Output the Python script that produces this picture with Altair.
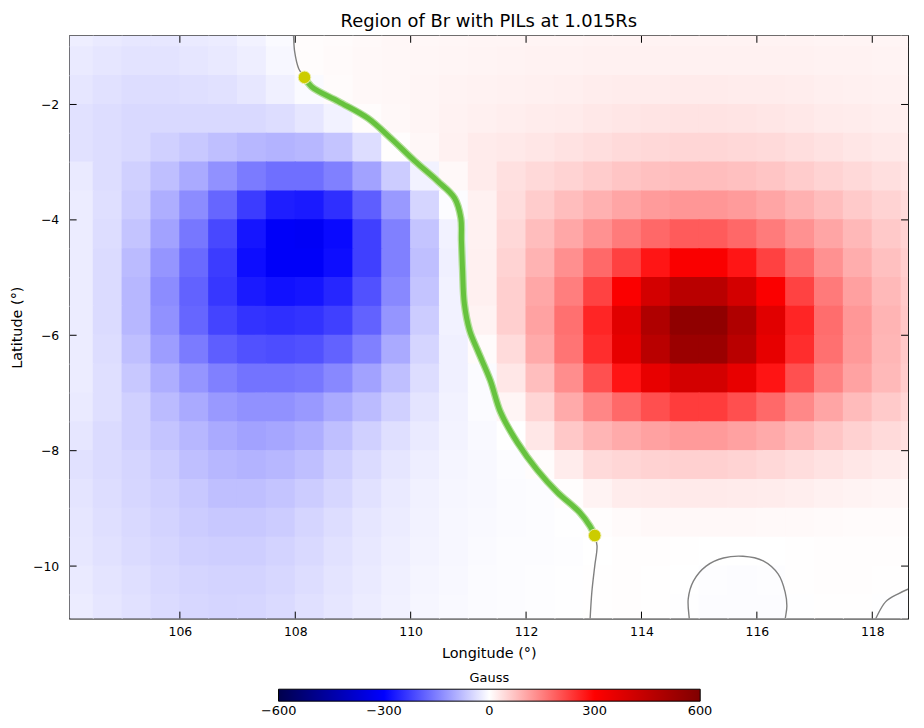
import altair as alt
import pandas as pd

# ---------------- data ----------------
LON_CENTERS = [104.25, 104.75, 105.25, 105.75, 106.25, 106.75, 107.25, 107.75,
               108.25, 108.75, 109.25, 109.75, 110.25, 110.75, 111.25, 111.75,
               112.25, 112.75, 113.25, 113.75, 114.25, 114.75, 115.25, 115.75,
               116.25, 116.75, 117.25, 117.75, 118.25, 118.75]
LAT_CENTERS = [-0.75, -1.25, -1.75, -2.25, -2.75, -3.25, -3.75, -4.25, -4.75,
               -5.25, -5.75, -6.25, -6.75, -7.25, -7.75, -8.25, -8.75, -9.25,
               -9.75, -10.25, -10.75]

# Br (Gauss), one row per latitude, one value per longitude
BR_ROWS = [
    [-20, -25, -28, -28, -25, -22, -15, -6, 3, 5, 7, 9, 10, 11, 12, 12, 13, 13, 14, 14, 14, 14, 14, 14, 14, 14, 13, 13, 12, 12],
    [-25, -30, -33, -33, -30, -26, -20, -10, 3, 6, 8, 10, 11, 12, 13, 14, 15, 15, 16, 17, 17, 17, 17, 17, 17, 16, 15, 15, 14, 13],
    [-30, -35, -40, -40, -38, -35, -28, -18, -6, 5, 8, 10, 12, 14, 15, 16, 18, 19, 21, 22, 22, 23, 23, 22, 22, 21, 19, 18, 16, 15],
    [-35, -40, -45, -45, -45, -45, -45, -40, -30, -15, 4, 8, 12, 15, 18, 20, 22, 24, 27, 30, 32, 33, 33, 32, 30, 27, 24, 22, 20, 18],
    [-35, -40, -45, -55, -65, -75, -85, -90, -85, -70, -40, 2, 10, 17, 23, 26, 30, 34, 39, 43, 46, 48, 48, 46, 43, 39, 34, 30, 26, 23],
    [-25, -40, -55, -75, -100, -130, -155, -170, -170, -150, -110, -60, -15, 8, 24, 36, 45, 52, 60, 68, 74, 78, 78, 74, 68, 60, 52, 45, 38, 32],
    [-22, -38, -60, -95, -135, -180, -230, -265, -270, -245, -190, -120, -50, -3, 16, 40, 60, 78, 92, 106, 118, 124, 124, 118, 106, 92, 78, 62, 52, 42],
    [-22, -40, -70, -110, -160, -215, -275, -310, -315, -290, -225, -150, -70, -15, 16, 46, 78, 104, 130, 155, 178, 193, 193, 178, 155, 130, 106, 84, 64, 52],
    [-22, -42, -80, -125, -175, -230, -285, -310, -310, -285, -225, -150, -75, -18, 18, 52, 90, 132, 176, 224, 275, 311, 311, 275, 224, 176, 130, 96, 74, 58],
    [-22, -42, -85, -135, -185, -235, -270, -280, -275, -255, -205, -140, -70, -15, 18, 56, 104, 152, 222, 310, 405, 466, 466, 405, 310, 222, 156, 112, 82, 62],
    [-22, -42, -85, -130, -180, -220, -240, -245, -240, -225, -185, -125, -60, -15, 14, 56, 110, 168, 256, 372, 490, 562, 562, 490, 372, 256, 172, 122, 88, 66],
    [-22, -40, -75, -115, -155, -190, -205, -210, -205, -185, -150, -100, -50, -18, 5, 42, 100, 163, 247, 356, 466, 537, 537, 466, 356, 247, 168, 120, 86, 64],
    [-22, -38, -65, -95, -125, -150, -165, -165, -160, -140, -110, -75, -40, -18, -5, 28, 76, 134, 206, 276, 355, 405, 405, 355, 276, 206, 148, 110, 82, 60],
    [-25, -38, -55, -80, -100, -120, -130, -130, -120, -100, -80, -55, -32, -15, -5, 12, 50, 100, 142, 176, 207, 229, 229, 207, 176, 140, 106, 80, 62, 48],
    [-30, -42, -55, -70, -85, -100, -110, -105, -95, -75, -55, -38, -25, -14, -7, 0, 28, 65, 87, 100, 111, 119, 119, 111, 100, 85, 68, 54, 43, 35],
    [-35, -42, -50, -60, -75, -85, -90, -85, -75, -58, -42, -30, -20, -12, -8, -4, 3, 22, 44, 48, 53, 55, 55, 52, 46, 40, 34, 28, 23, 19],
    [-32, -40, -48, -55, -65, -75, -75, -70, -60, -48, -35, -25, -17, -11, -8, -5, -3, 2, 14, 22, 24, 25, 25, 24, 22, 20, 17, 14, 12, 10],
    [-30, -38, -45, -52, -60, -65, -65, -60, -50, -40, -30, -22, -15, -10, -7, -5, -3, -1, 2, 6, 8, 8, 8, 8, 7, 7, 6, 5, 5, 4],
    [-28, -35, -42, -48, -55, -58, -58, -52, -45, -35, -27, -20, -14, -9, -6, -4, -3, -2, 0, 2, 2, 1, 0, 0, 0, 1, 2, 2, 2, 1],
    [-25, -32, -38, -45, -50, -52, -52, -47, -40, -32, -25, -18, -12, -8, -5, -3, -2, -1, 1, 2, 1, 0, -2, -3, -2, 1, 2, 2, 1, 1],
    [-22, -30, -35, -42, -47, -50, -48, -43, -37, -30, -22, -16, -11, -7, -5, -3, -2, -1, 1, 2, 1, -1, -3, -4, -3, -1, 1, 1, -1, -2],
]

# polarity inversion line (green)
PIL_LON = [108.16, 108.28, 108.75, 109.26, 109.66, 110.07, 110.47, 110.76, 110.87,
           110.88, 110.90, 110.93, 111.02, 111.16, 111.38, 111.56, 111.85, 112.19,
           112.54, 112.93, 113.11, 113.19]
PIL_LAT = [-1.53, -1.69, -1.95, -2.24, -2.59, -2.98, -3.33, -3.62, -3.97,
           -4.36, -4.88, -5.45, -5.91, -6.26, -6.78, -7.34, -7.86, -8.33,
           -8.72, -9.07, -9.31, -9.47]

# zero-Gauss contours (grey)
NORTH_LON = [107.96, 107.97, 107.99, 108.06, 108.16]
NORTH_LAT = [-0.60, -0.81, -1.09, -1.38, -1.53]
SOUTH_LON = [113.19, 113.23, 113.19, 113.14, 113.11, 113.10]
SOUTH_LAT = [-9.47, -9.65, -10.00, -10.45, -10.91, -11.10]
LOOP_LON = [114.84, 114.83, 114.81, 114.90, 115.12, 115.42, 115.76, 116.11,
            116.37, 116.49, 116.52, 116.49, 116.48]
LOOP_LAT = [-11.10, -10.93, -10.57, -10.26, -10.00, -9.86, -9.83, -9.91,
            -10.14, -10.45, -10.69, -10.93, -11.10]
CORNER_LON = [117.98, 118.05, 118.23, 118.45, 118.62, 118.80]
CORNER_LAT = [-11.08, -10.93, -10.62, -10.48, -10.40, -10.33]

ENDPOINT_LON = [108.16, 113.19]
ENDPOINT_LAT = [-1.53, -9.47]

X_TICKS = [106, 108, 110, 112, 114, 116, 118]
Y_TICKS = [-2, -4, -6, -8, -10]
CBAR_TICKS = [-600, -300, 0, 300, 600]
X_DOMAIN = [104.09, 118.62]
Y_DOMAIN = [-10.91, -0.81]

# ---------------- tables ----------------
grid = pd.DataFrame(
    [{"lon": lon, "lat": lat, "br": BR_ROWS[i][j]}
     for i, lat in enumerate(LAT_CENTERS) for j, lon in enumerate(LON_CENTERS)]
)

contour_rows = []
for name, lons, lats in [("north", NORTH_LON, NORTH_LAT), ("south", SOUTH_LON, SOUTH_LAT),
                         ("loop", LOOP_LON, LOOP_LAT), ("corner", CORNER_LON, CORNER_LAT)]:
    for k, (a, b) in enumerate(zip(lons, lats)):
        contour_rows.append({"seg": name, "k": k, "lon": a, "lat": b})
contours = pd.DataFrame(contour_rows)
pil = pd.DataFrame({"k": list(range(len(PIL_LON))), "lon": PIL_LON, "lat": PIL_LAT})
ends = pd.DataFrame({"lon": ENDPOINT_LON, "lat": ENDPOINT_LAT})
xt = pd.DataFrame({"v": X_TICKS})
yt = pd.DataFrame({"v": Y_TICKS})

W, H = 843, 586
FONT = "DejaVu Sans"

X_SCALE = alt.Scale(domain=X_DOMAIN, nice=False, zero=False)
Y_SCALE = alt.Scale(domain=Y_DOMAIN, nice=False, zero=False)
# seismic colour map; the ends sit a hair beyond +-600 so the end labels centre
C_SCALE = alt.Scale(domain=[-600.5, -300, 0, 300, 600.5],
                    range=["#00004d", "#0000ff", "#ffffff", "#ff0000", "#800000"],
                    interpolate="rgb", clamp=True)

X_AXIS = alt.Axis(values=X_TICKS, ticks=False, domain=False, grid=False, format="d",
                  labelPadding=7, labelFontSize=12.5, labelFont=FONT, labelColor="black",
                  title="Longitude (°)", titleFont=FONT, titleFontSize=14.5,
                  titleFontWeight="normal", titleColor="black", titlePadding=9)
Y_AXIS = alt.Axis(values=Y_TICKS, ticks=False, domain=False, grid=False, format="d",
                  labelPadding=11, labelFontSize=12.5, labelFont=FONT, labelColor="black",
                  title="Latitude (°)", titleFont=FONT, titleFontSize=14.5,
                  titleFontWeight="normal", titleColor="black", titlePadding=8)

LEGEND = alt.Legend(orient="none", legendX=210, legendY=640, direction="horizontal",
                    type="gradient",
                    gradientLength=424, gradientThickness=12, title="Gauss",
                    titleAnchor="middle", titleOrient="top", titleFont=FONT,
                    titleFontSize=13, titleFontWeight="normal", titleColor="black",
                    titlePadding=4, values=CBAR_TICKS, format="d", labelFont=FONT,
                    labelFontSize=13, labelColor="black", labelAlign="center",
                    labelOffset=4, gradientStrokeColor="black", gradientStrokeWidth=1)


def xenc(field):
    return alt.X(field, type="quantitative", scale=X_SCALE, axis=X_AXIS)


def yenc(field):
    return alt.Y(field, type="quantitative", scale=Y_SCALE, axis=Y_AXIS)


heat = alt.Chart(grid).transform_calculate(
    lon0="datum.lon - 0.26", lon1="datum.lon + 0.26",
    lat0="datum.lat - 0.26", lat1="datum.lat + 0.26",
).mark_rect(clip=True).encode(
    x=xenc("lon0"), x2="lon1:Q",
    y=yenc("lat0"), y2="lat1:Q",
    color=alt.Color("br:Q", scale=C_SCALE, legend=LEGEND),
)

zero_lines = alt.Chart(contours).mark_line(
    clip=True, color="#808080", strokeWidth=1.4, interpolate="catmull-rom"
).encode(x=xenc("lon"), y=yenc("lat"), detail="seg:N", order="k:Q")

pil_halo = alt.Chart(pil).mark_line(
    clip=True, color="#b4e09c", strokeWidth=7.5, interpolate="catmull-rom", strokeCap="round"
).encode(x=xenc("lon"), y=yenc("lat"), order="k:Q")
pil_line = alt.Chart(pil).mark_line(
    clip=True, color="#66c23e", strokeWidth=5, interpolate="catmull-rom", strokeCap="round"
).encode(x=xenc("lon"), y=yenc("lat"), order="k:Q")

end_pts = alt.Chart(ends).mark_point(
    filled=True, size=160, color="#cccc00", stroke="#eeeeb0", strokeWidth=1, opacity=1
).encode(x=xenc("lon"), y=yenc("lat"))

TL = 7
top_ticks = alt.Chart(xt).mark_rule(color="black", strokeWidth=1).encode(
    x=xenc("v"), y=alt.value(0), y2=alt.value(TL))
bottom_ticks = alt.Chart(xt).mark_rule(color="black", strokeWidth=1).encode(
    x=xenc("v"), y=alt.value(H), y2=alt.value(H - TL))
left_ticks = alt.Chart(yt).mark_rule(color="black", strokeWidth=1).encode(
    y=yenc("v"), x=alt.value(0), x2=alt.value(TL))
right_ticks = alt.Chart(yt).mark_rule(color="black", strokeWidth=1).encode(
    y=yenc("v"), x=alt.value(W), x2=alt.value(W - TL))

chart = alt.layer(
    heat, zero_lines, pil_halo, pil_line, end_pts,
    top_ticks, bottom_ticks, left_ticks, right_ticks,
).properties(
    width=W, height=H,
    autosize=alt.AutoSizeParams(type="none"),
    padding={"left": 62, "top": 26, "right": 8, "bottom": 100},
    background="white",
    title=alt.TitleParams("Region of Br with PILs at 1.015Rs", font=FONT, fontSize=18,
                          fontWeight="normal", color="black", anchor="middle", offset=4),
).configure_view(stroke="black", strokeWidth=1.3)

chart.save("out.html", embed_options={"renderer": "svg", "actions": False})
